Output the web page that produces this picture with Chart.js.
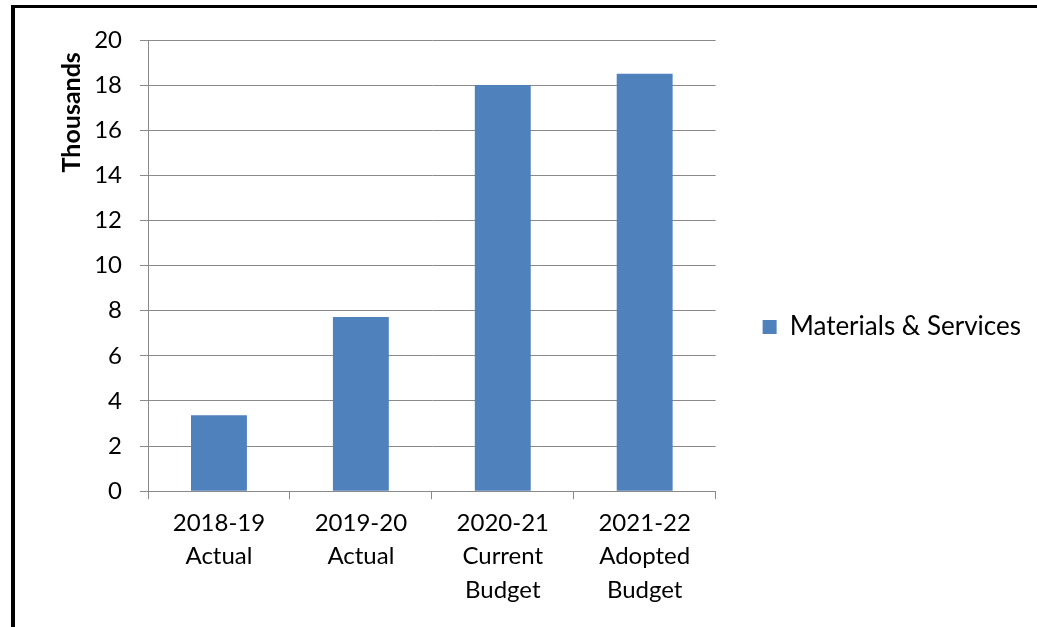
<!DOCTYPE html>
<html>
<head>
<meta charset="utf-8">
<script src="https://cdn.jsdelivr.net/npm/chart.js@4"></script>
<style>
  html, body { margin: 0; padding: 0; background: #fff; }
  #frame {
    position: absolute; left: 11px; top: 5px; right: -10px; bottom: -10px;
    border-top: 3px solid #000; border-left: 4px solid #000;
  }
  #wrap { position: absolute; left: 0; top: 0; width: 1037px; height: 627px; }
</style>
</head>
<body>
<div id="frame"></div>
<div id="wrap"><canvas id="grafico" width="1037" height="627"></canvas></div>
<script>
const categorias = [
  ['2018-19', 'Actual'],
  ['2019-20', 'Actual'],
  ['2020-21', 'Current', 'Budget'],
  ['2021-22', 'Adopted', 'Budget']
];
const valores = [3.37, 7.72, 18.0, 18.5];
const serie = 'Materials & Services';
const escalaY = { min: 0, max: 20, passo: 2 };

const fonte = "Lato, 'Open Sans', sans-serif";
const cinza = '#8a8a8a';

const ctx = document.getElementById('grafico').getContext('2d');
new Chart(ctx, {
  type: 'bar',
  data: {
    labels: categorias,
    datasets: [{
      label: serie,
      data: valores,
      backgroundColor: '#4f81bd',
      borderWidth: 0,
      categoryPercentage: 1,
      barPercentage: 0.394
    }]
  },
  options: {
    responsive: false,
    animation: false,
    layout: { padding: { top: 40, left: 57, right: 6, bottom: 13 } },
    plugins: {
      tooltip: { enabled: false },
      legend: {
        position: 'right',
        maxWidth: 320,
        labels: {
          color: '#000',
          font: { family: fonte, size: 26 },
          boxWidth: 14,
          boxHeight: 14,
          padding: 10
        }
      }
    },
    scales: {
      x: {
        grid: { drawOnChartArea: false, color: cinza, tickLength: 8, offset: true },
        border: { color: cinza },
        ticks: {
          color: '#000',
          font: { family: fonte, size: 24, lineHeight: 1.4 },
          maxRotation: 0,
          padding: 7
        }
      },
      y: {
        min: escalaY.min,
        max: escalaY.max,
        grid: { color: cinza, tickLength: 8 },
        border: { color: cinza },
        ticks: {
          stepSize: escalaY.passo,
          color: '#000',
          font: { family: fonte, size: 24 },
          padding: 18
        },
        title: {
          display: true,
          text: 'Thousands\u00a0\u00a0',
          align: 'end',
          color: '#000',
          font: { family: fonte, size: 25, weight: 'bold' },
          padding: { top: 0, bottom: 7 }
        },
        afterFit(escala) { escala.width = 91; }
      },
      // espaço vazio entre a área do gráfico e a legenda
      folga: {
        position: 'right',
        grid: { display: false },
        border: { display: false },
        ticks: { display: false },
        afterFit(escala) { escala.width = 37; }
      }
    }
  }
});
</script>
</body>
</html>
